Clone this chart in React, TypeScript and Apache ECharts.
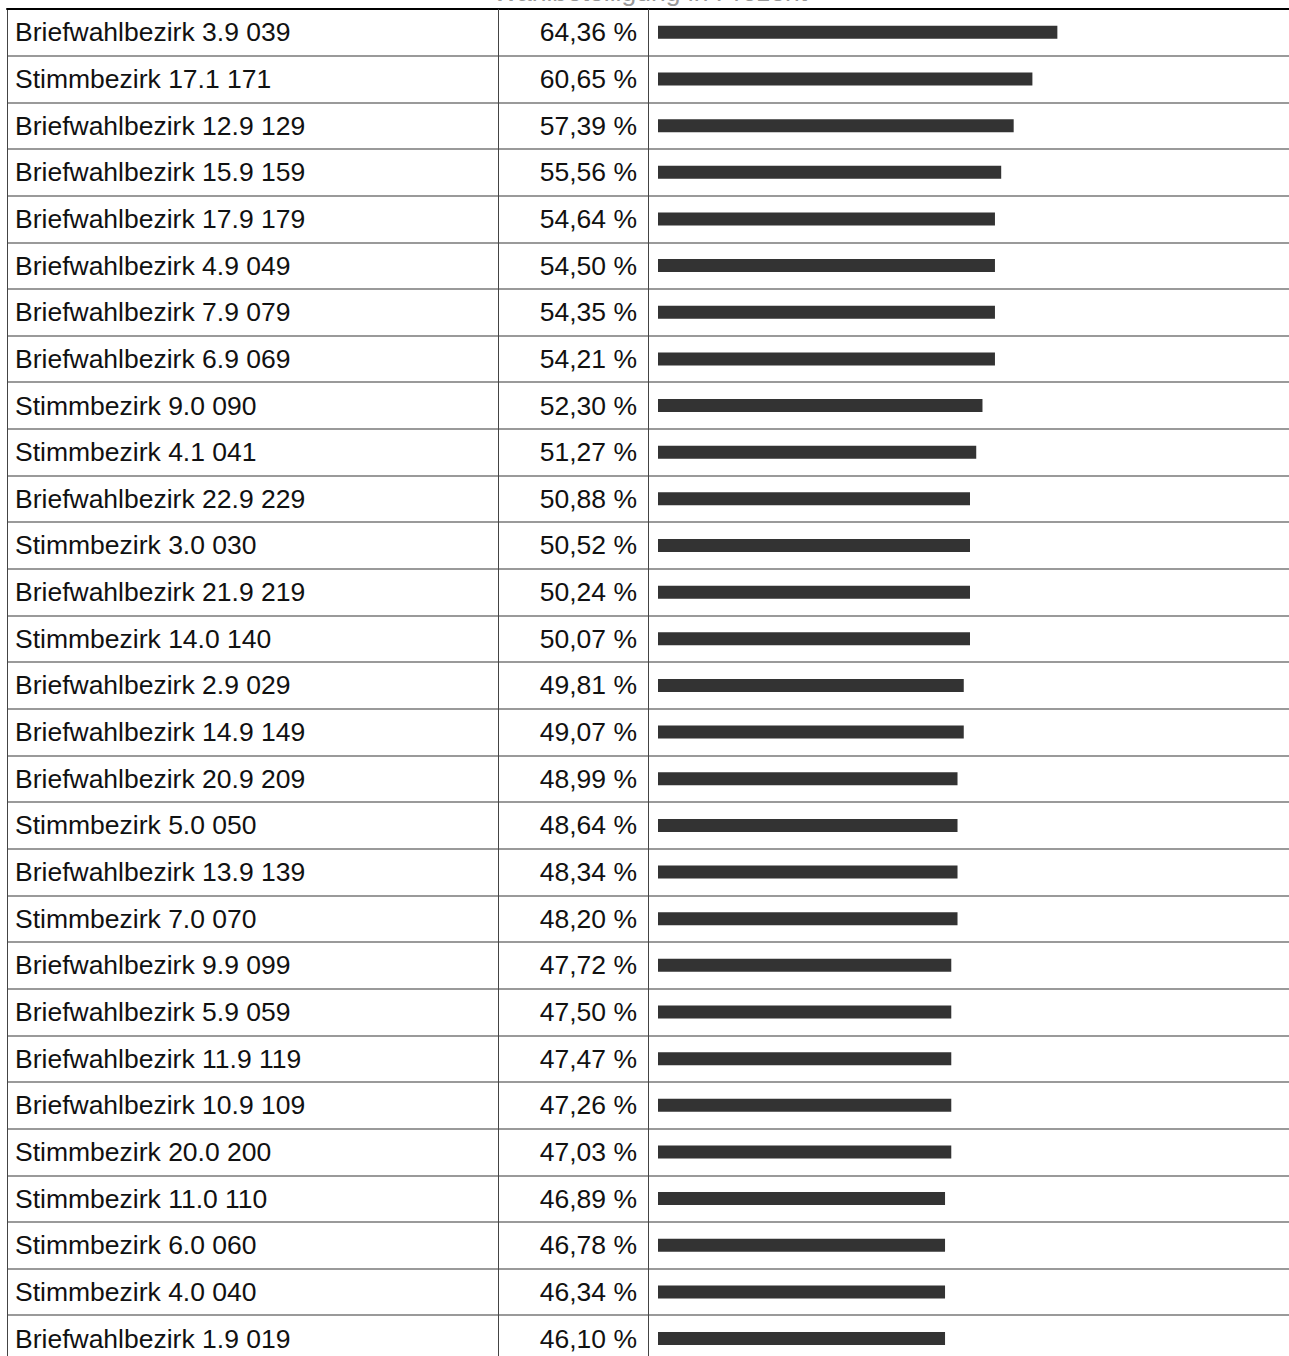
import React, { useEffect, useRef } from "react";
import * as echarts from "echarts";

const categories = [
  "Briefwahlbezirk 3.9 039",
  "Stimmbezirk 17.1 171",
  "Briefwahlbezirk 12.9 129",
  "Briefwahlbezirk 15.9 159",
  "Briefwahlbezirk 17.9 179",
  "Briefwahlbezirk 4.9 049",
  "Briefwahlbezirk 7.9 079",
  "Briefwahlbezirk 6.9 069",
  "Stimmbezirk 9.0 090",
  "Stimmbezirk 4.1 041",
  "Briefwahlbezirk 22.9 229",
  "Stimmbezirk 3.0 030",
  "Briefwahlbezirk 21.9 219",
  "Stimmbezirk 14.0 140",
  "Briefwahlbezirk 2.9 029",
  "Briefwahlbezirk 14.9 149",
  "Briefwahlbezirk 20.9 209",
  "Stimmbezirk 5.0 050",
  "Briefwahlbezirk 13.9 139",
  "Stimmbezirk 7.0 070",
  "Briefwahlbezirk 9.9 099",
  "Briefwahlbezirk 5.9 059",
  "Briefwahlbezirk 11.9 119",
  "Briefwahlbezirk 10.9 109",
  "Stimmbezirk 20.0 200",
  "Stimmbezirk 11.0 110",
  "Stimmbezirk 6.0 060",
  "Stimmbezirk 4.0 040",
  "Briefwahlbezirk 1.9 019",
];

const values = [
  64.36, 60.65, 57.39, 55.56, 54.64, 54.5, 54.35, 54.21, 52.3, 51.27, 50.88,
  50.52, 50.24, 50.07, 49.81, 49.07, 48.99, 48.64, 48.34, 48.2, 47.72, 47.5,
  47.47, 47.26, 47.03, 46.89, 46.78, 46.34, 46.1,
];

const titleText = "Wahlbeteiligung in Prozent";

// layout (page pixels)
const W = 1289;
const H = 1356;
const CHART_H = 1420;
const TABLE_LEFT = 7;
const TABLE_TOP = 9;
const ROW_H = 46.65;
const COL1 = 498;
const COL2 = 648;
const ZERO_X = 658;
const PX_PER_UNIT = 6.24;

const FONT = "'Liberation Sans', Arial, Helvetica, sans-serif";
const FS = 26.5;

function fmt(v: number) {
  return v.toFixed(2).replace(".", ",") + " %";
}

export default function App() {
  const ref = useRef<HTMLDivElement>(null);
  useEffect(() => {
    if (!ref.current) return;
    const chart = echarts.init(ref.current, undefined, { renderer: "svg" });
    const gridW = W - TABLE_LEFT;
    const xMin = -(ZERO_X - TABLE_LEFT) / PX_PER_UNIT;
    const xMax = (W - ZERO_X) / PX_PER_UNIT;
    chart.setOption({
      animation: false,
      backgroundColor: "#ffffff",
      textStyle: { fontFamily: FONT },
      grid: {
        left: TABLE_LEFT,
        top: TABLE_TOP,
        width: gridW,
        height: ROW_H * categories.length,
        containLabel: false,
      },
      xAxis: {
        type: "value",
        position: "top",
        min: xMin,
        max: xMax,
        axisLine: { show: true, onZero: false, lineStyle: { color: "#000", width: 2 } },
        axisTick: { show: false },
        axisLabel: { show: false },
        splitLine: { show: false },
      },
      yAxis: {
        type: "category",
        inverse: true,
        data: categories,
        axisLine: { show: true, onZero: false, lineStyle: { color: "#444", width: 1 } },
        axisTick: { show: false },
        axisLabel: {
          inside: true,
          margin: 8,
          fontSize: FS,
          color: "#111",
          fontFamily: FONT,
          align: "left",
        },
        splitLine: { show: true, lineStyle: { color: "#9a9a9a", width: 2 } },
      },
      series: [
        {
          type: "bar",
          // the source draws each bar at its whole-percent length
          data: values.map((v) => Math.floor(v)),
          barWidth: 13,
          itemStyle: { color: "#333333" },
          label: {
            show: true,
            position: [-21, "50%"],
            align: "right",
            verticalAlign: "middle",
            fontSize: FS,
            color: "#111",
            fontFamily: FONT,
            formatter: (p: any) => fmt(values[p.dataIndex]),
          },
          silent: true,
        },
      ],
      graphic: [
        {
          type: "line",
          shape: { x1: COL1 + 0.5, y1: TABLE_TOP, x2: COL1 + 0.5, y2: CHART_H },
          style: { stroke: "#444", lineWidth: 1 },
          z: 10,
        },
        {
          type: "line",
          shape: { x1: COL2 + 0.5, y1: TABLE_TOP, x2: COL2 + 0.5, y2: CHART_H },
          style: { stroke: "#444", lineWidth: 1 },
          z: 10,
        },
        {
          type: "text",
          x: 650,
          y: 5,
          z: -1,
          style: {
            text: titleText,
            fontSize: FS,
            fontFamily: FONT,
            fill: "#999",
            textAlign: "center",
            textVerticalAlign: "bottom",
          },
        },
      ],
    });
    return () => chart.dispose();
  }, []);
  return (
    <div
      style={{ position: "absolute", left: 0, top: 0, width: W, height: H, overflow: "hidden" }}
    >
      <div ref={ref} style={{ width: W, height: CHART_H }} />
    </div>
  );
}
